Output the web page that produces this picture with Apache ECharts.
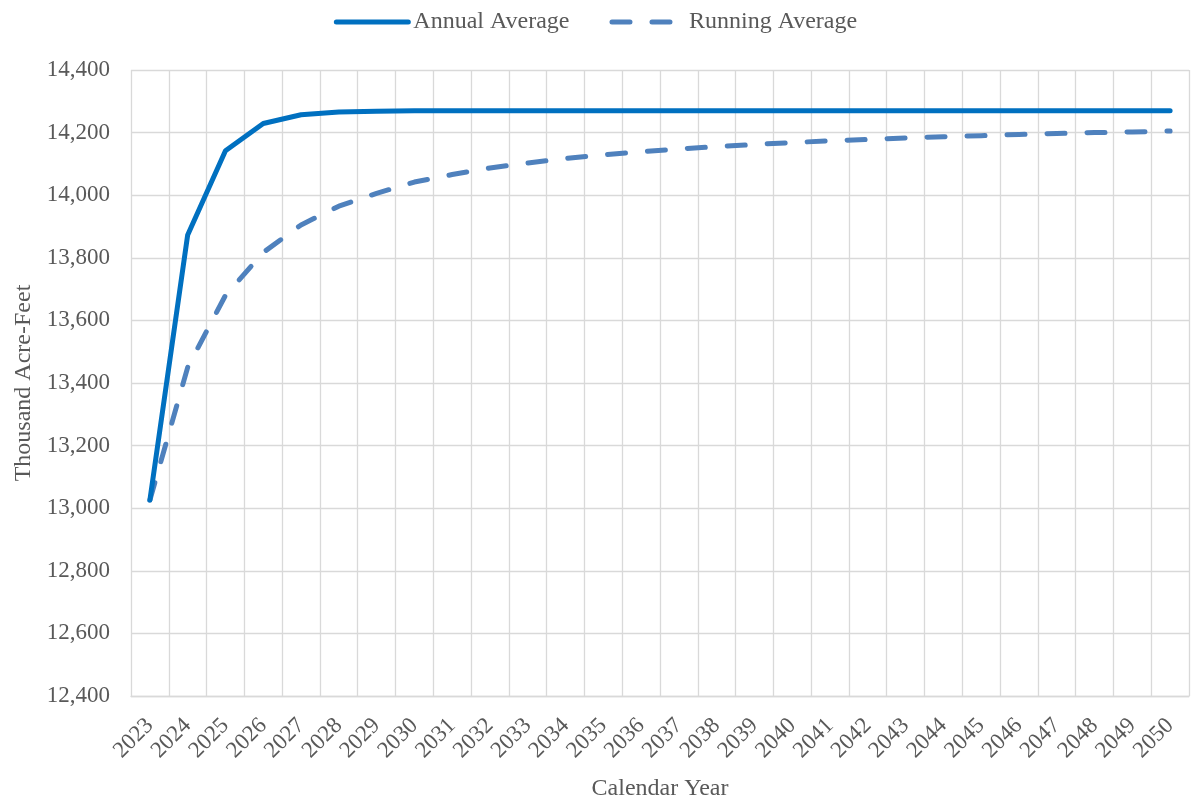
<!DOCTYPE html>
<html>
<head>
<meta charset="utf-8">
<script src="https://cdn.jsdelivr.net/npm/echarts@6/dist/echarts.min.js"></script>
<style>
html,body{margin:0;padding:0;background:#fff;}
#chart{width:1191px;height:806px;}
</style>
</head>
<body>
<div id="chart"></div>
<script>
const years = ['2023','2024','2025','2026','2027','2028','2029','2030','2031','2032','2033','2034','2035','2036','2037','2038','2039','2040','2041','2042','2043','2044','2045','2046','2047','2048','2049','2050'];
const annualAverage = [13026,13873,14142,14229,14257,14266,14268,14270,14270,14270,14270,14270,14270,14270,14270,14270,14270,14270,14270,14270,14270,14270,14270,14270,14270,14270,14270,14270];
const runningAverage = [13026,13450,13680,13817,13905,13965,14006,14042,14066,14087,14103,14117,14129,14139,14148,14155,14162,14168,14174,14178,14183,14187,14190,14194,14197,14200,14202,14205];
const yTicks = {min:12400, max:14400, interval:200};

const font = 'Liberation Serif';
const textColor = '#595959';
const gridColor = '#d9d9d9';

const chart = echarts.init(document.getElementById('chart'));
chart.setOption({
  animation:false,
  backgroundColor:'#ffffff',
  legend:{
    top:5,
    left:'center',
    itemWidth:72,
    itemHeight:14,
    itemGap:40,
    lineStyle:{width:5,cap:'round'},
    textStyle:{fontFamily:font,fontSize:24,color:textColor},
    data:['Annual Average','Running Average']
  },
  grid:{left:131,right:2,top:70,bottom:108,containLabel:false},
  xAxis:{
    type:'category',
    data:years,
    boundaryGap:true,
    name:'Calendar Year',
    nameLocation:'middle',
    nameGap:81,
    nameTextStyle:{fontFamily:font,fontSize:24,color:textColor},
    axisLine:{show:true,lineStyle:{color:gridColor,width:1.3}},
    axisTick:{show:false},
    axisLabel:{rotate:45,interval:0,margin:26,fontFamily:font,fontSize:23,color:textColor},
    splitLine:{show:true,interval:0,lineStyle:{color:gridColor,width:1.3}}
  },
  yAxis:{
    type:'value',
    min:yTicks.min,max:yTicks.max,interval:yTicks.interval,
    name:'Thousand Acre-Feet',
    nameLocation:'middle',
    nameGap:94,
    nameTextStyle:{fontFamily:font,fontSize:24,color:textColor},
    axisLine:{show:false},
    axisTick:{show:false},
    axisLabel:{margin:21,fontFamily:font,fontSize:23,color:textColor,
      formatter:v=>v.toLocaleString('en-US')},
    splitLine:{show:true,lineStyle:{color:gridColor,width:1.3}}
  },
  series:[
    {name:'Annual Average',type:'line',data:annualAverage,symbol:'none',
     lineStyle:{color:'#0070C0',width:5,cap:'round',join:'round'},
     itemStyle:{color:'rgba(0,0,0,0)'},z:3},
    {name:'Running Average',type:'line',data:runningAverage,symbol:'none',
     lineStyle:{color:'#4F81BD',width:5,type:[18,22],cap:'round',join:'round'},
     itemStyle:{color:'rgba(0,0,0,0)'},z:2}
  ]
});
</script>
</body>
</html>
